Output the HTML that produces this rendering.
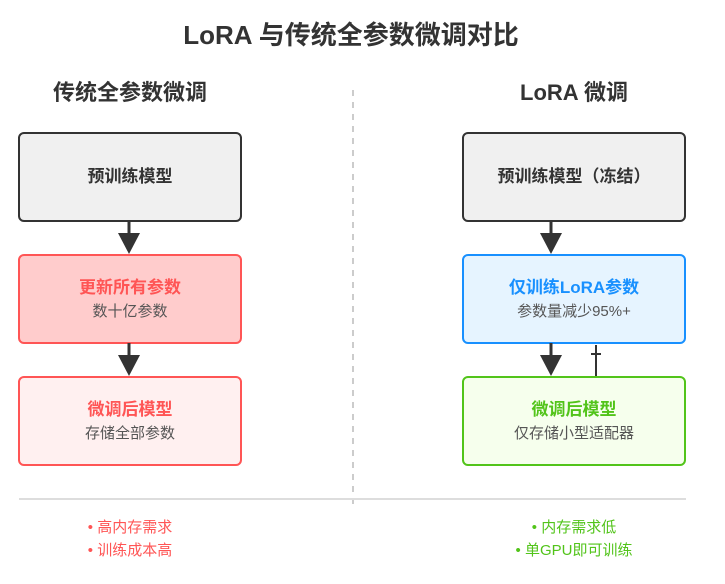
<!DOCTYPE html>
<html><head><meta charset="utf-8"><style>
body{margin:0;background:#fff}
svg text{font-family:"Liberation Sans","Noto Sans CJK SC",sans-serif;text-anchor:middle}
</style></head><body>
<svg width="725" height="579" viewBox="0 0 725 579" xmlns="http://www.w3.org/2000/svg">
<text x="351" y="44" font-size="26" font-weight="bold" fill="#333">LoRA 与传统全参数微调对比</text>
<text x="130" y="100" font-size="22" font-weight="bold" fill="#333">传统全参数微调</text>
<text x="574" y="100" font-size="22" font-weight="bold" fill="#333">LoRA 微调</text>
<line x1="353" y1="90" x2="353" y2="505" stroke="#ccc" stroke-width="2" stroke-dasharray="6,6"/>
<line x1="19" y1="499" x2="686" y2="499" stroke="#ddd" stroke-width="2"/>
<!-- left -->
<rect x="19" y="133" width="222" height="88" rx="5" fill="#f0f0f0" stroke="#333" stroke-width="2"/>
<text x="130" y="182" font-size="17" font-weight="bold" fill="#333">预训练模型</text>
<line x1="129" y1="221" x2="129" y2="235" stroke="#333" stroke-width="3"/>
<polygon points="118,233 140,233 129,254" fill="#333"/>
<rect x="19" y="255" width="222" height="88" rx="5" fill="#ffcccc" stroke="#ff5555" stroke-width="2"/>
<text x="130" y="293" font-size="17" font-weight="bold" fill="#ff5555">更新所有参数</text>
<text x="130" y="316" font-size="15" fill="#555">数十亿参数</text>
<line x1="129" y1="343" x2="129" y2="357" stroke="#333" stroke-width="3"/>
<polygon points="118,355 140,355 129,376" fill="#333"/>
<rect x="19" y="377" width="222" height="88" rx="5" fill="#fff0f0" stroke="#ff5555" stroke-width="2"/>
<text x="130" y="415" font-size="17" font-weight="bold" fill="#ff5555">微调后模型</text>
<text x="130" y="438" font-size="15" fill="#555">存储全部参数</text>
<!-- right -->
<rect x="463" y="133" width="222" height="88" rx="5" fill="#f0f0f0" stroke="#333" stroke-width="2"/>
<text x="574" y="182" font-size="17" font-weight="bold" fill="#333">预训练模型（冻结）</text>
<line x1="551" y1="221" x2="551" y2="235" stroke="#333" stroke-width="3"/>
<polygon points="540,233 562,233 551,254" fill="#333"/>
<rect x="463" y="255" width="222" height="88" rx="5" fill="#e6f4ff" stroke="#1890ff" stroke-width="2"/>
<text x="574" y="293" font-size="17" font-weight="bold" fill="#1890ff">仅训练LoRA参数</text>
<text x="574" y="316" font-size="15" fill="#555">参数量减少95%+</text>
<line x1="551" y1="343" x2="551" y2="357" stroke="#333" stroke-width="3"/>
<polygon points="540,355 562,355 551,376" fill="#333"/>
<line x1="596" y1="345" x2="596" y2="377" stroke="#333" stroke-width="2"/>
<line x1="591" y1="354" x2="601" y2="354" stroke="#333" stroke-width="2"/>
<rect x="463" y="377" width="222" height="88" rx="5" fill="#f6ffed" stroke="#52c41a" stroke-width="2"/>
<text x="574" y="415" font-size="17" font-weight="bold" fill="#52c41a">微调后模型</text>
<text x="574" y="438" font-size="15" fill="#555">仅存储小型适配器</text>
<!-- bottom -->
<text x="130" y="532" font-size="15" fill="#ff5555">• 高内存需求</text>
<text x="130" y="555" font-size="15" fill="#ff5555">• 训练成本高</text>
<text x="574" y="532" font-size="15" fill="#52c41a">• 内存需求低</text>
<text x="574" y="555" font-size="15" fill="#52c41a">• 单GPU即可训练</text>
</svg>
</body></html>
